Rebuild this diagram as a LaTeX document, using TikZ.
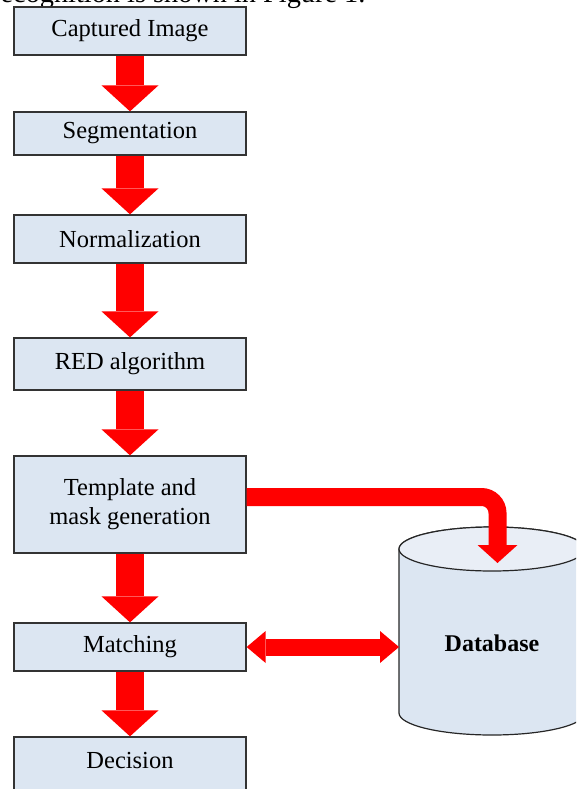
\documentclass[tikz,border=0pt]{standalone}
\usepackage{fontspec}
\setmainfont{Liberation Serif}
\usetikzlibrary{arrows.meta,calc}
\definecolor{boxfill}{HTML}{DCE6F2}
\definecolor{topfill}{HTML}{E9EEF6}
\definecolor{arrred}{HTML}{FF0000}
\begin{document}
\begin{tikzpicture}[x=1pt,y=1pt,
  stepbox/.style={draw=black!80, line width=1.3pt, fill=boxfill, minimum width=232pt,
    inner sep=0pt, align=center, font=\fontsize{24.5}{29}\selectfont},
  flow/.style={draw=arrred, line width=28pt,
    -{Triangle[length=26pt,width=57pt,line width=0pt]}},
  dbflow/.style={draw=arrred, line width=18pt, rounded corners=16pt,
    -{Triangle[length=18pt,width=40pt,line width=0pt]}},
  dblflow/.style={draw=arrred, line width=17pt,
    {Triangle[length=19pt,width=32pt,line width=0pt]}-{Triangle[length=19pt,width=32pt,line width=0pt]}},
  cyl/.style={draw=black!85, line width=1.2pt}]
\useasboundingbox (0,0) rectangle (576,-789);
\clip (0,0) rectangle (576,-789);

% cut-off caption line at the top
\node[anchor=base west, inner sep=0pt, font=\fontsize{28.3}{32}\selectfont] (cap) at (-9,-2.5)
  {recognition is shown in Figure 1.};

% flow boxes
\node[stepbox, minimum height=48pt] (b1) at (130,-31) {Captured Image};
\node[stepbox, minimum height=43pt] (b2) at (130,-133.5) {Segmentation};
\node[stepbox, minimum height=48pt] (b3) at (130,-239) {Normalization};
\node[stepbox, minimum height=52pt] (b4) at (130,-364) {RED algorithm};
\node[stepbox, minimum height=97pt] (b5) at (130,-504.5) {Template and\\mask generation};
\node[stepbox, minimum height=48pt] (b6) at (130,-647) {Matching};
\node[stepbox, minimum height=62pt, text height=10pt, text depth=10pt] (b7) at (130,-768) {Decision};

% database cylinder
\path[cyl, fill=boxfill] (399,-549) -- (399,-713) arc (180:360:93 and 22)
  -- (585,-549) arc (0:180:93 and 22) -- cycle;
\draw[cyl, fill=topfill] (492,-549) ellipse (93 and 22);
\node[minimum width=186pt, minimum height=164pt, inner sep=0pt, outer sep=0pt] (dbbody) at (492,-631) {};
\node[font=\bfseries\fontsize{24}{28}\selectfont, inner sep=0pt] (dblabel) at (492,-643) {Database};
\coordinate (dbin) at (497.5,-563);

% connectors
\draw[flow] (b1.south) -- (b2.north);
\draw[flow] (b2.south) -- (b3.north);
\draw[flow] (b3.south) -- (b4.north);
\draw[flow] (b4.south) -- (b5.north);
\draw[flow] (b5.south) -- (b6.north);
\draw[flow] (b6.south) -- (b7.north);
\draw[dbflow] ([yshift=7.5pt]b5.east) -| (dbin);
\draw[dblflow] (b6.east) -- (b6.east -| dbbody.west);
\end{tikzpicture}
\end{document}
